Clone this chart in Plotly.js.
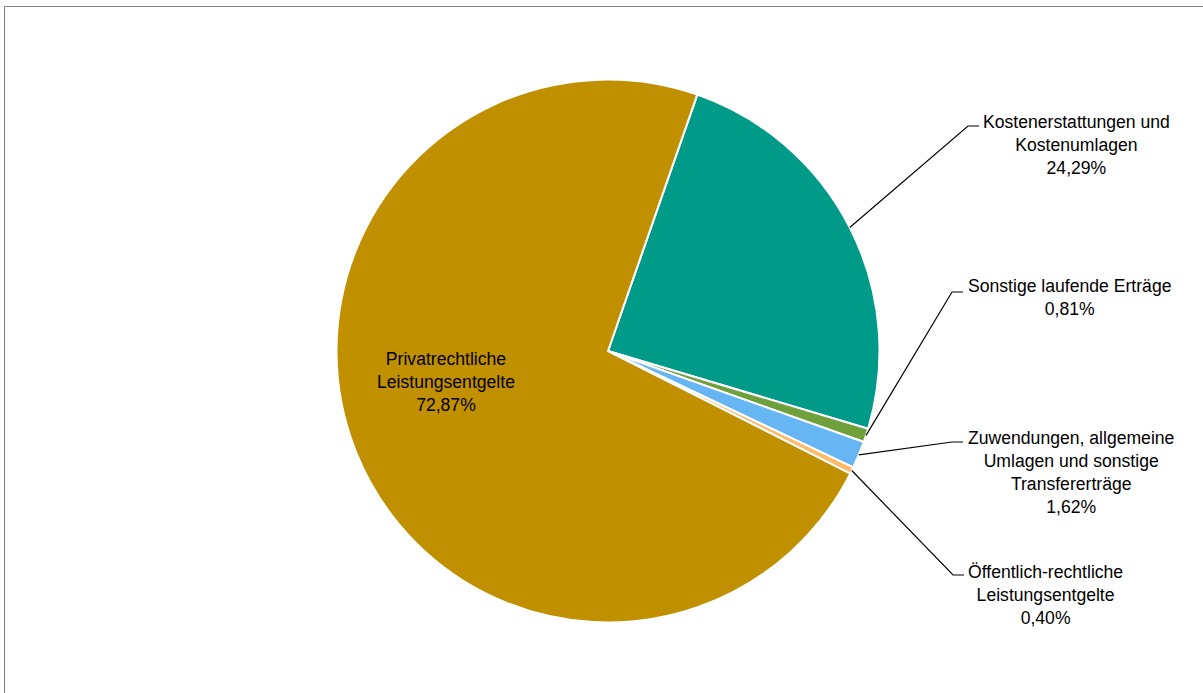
<!DOCTYPE html>
<html><head><meta charset="utf-8">
<script src="https://cdn.plot.ly/plotly-3.0.1.min.js"></script>
<style>html,body{margin:0;padding:0;background:#fff}#chart{width:1203px;height:693px}</style>
</head><body><div id="chart"></div>
<script>
// ---- data ----
const categories = [
  "Kostenerstattungen und<br>Kostenumlagen",
  "Sonstige laufende Erträge",
  "Zuwendungen, allgemeine<br>Umlagen und sonstige<br>Transfererträge",
  "Öffentlich-rechtliche<br>Leistungsentgelte",
  "Privatrechtliche<br>Leistungsentgelte"
];
const shares = [24.29, 0.81, 1.62, 0.40, 72.87];
const sliceColors = ["#009A88", "#6FA03C", "#66B6F4", "#FFB866", "#C09000"];

// ---- layout (pixels) ----
const W = 1203, H = 693;
const CX = 608, CY = 351, R = 271.5, ROT = 19.2;
// label placement: elbow point, text left edge, text centre y; null elbow = inside
const placement = [
  {elbow: [968, 126], tx: 981, ty: 145},
  {elbow: [952, 292], tx: 966, ty: 297},
  {elbow: [952, 442], tx: 966, ty: 472},
  {elbow: [953, 575], tx: 966, ty: 595},
  {elbow: null, tx: 446, ty: 382}
];
const FONT = {family: "'Liberation Sans Narrow', 'Arial Narrow', 'Liberation Sans', Arial, sans-serif", size: 17.6, color: "#000"};

const px = x => x / W;
const py = y => 1 - y / H;

const total = shares.reduce((a, b) => a + b, 0);
const fmt = v => v.toFixed(2).replace('.', ',') + '%';

const shapes = [
  {type: 'line', xref: 'paper', yref: 'paper', x0: px(4.5), x1: 1, y0: py(6.5), y1: py(6.5), line: {color: '#808080', width: 1}},
  {type: 'line', xref: 'paper', yref: 'paper', x0: px(4.5), x1: px(4.5), y0: py(6.5), y1: 0, line: {color: '#808080', width: 1}}
];
const annotations = [];
let cum = 0;
shares.forEach((v, i) => {
  const mid = (ROT + 360 * (cum + v / 2) / total) * Math.PI / 180;
  cum += v;
  const p = placement[i];
  const txt = categories[i] + '<br>' + fmt(v);
  if (p.elbow) {
    const ex = CX + R * Math.sin(mid), ey = CY - R * Math.cos(mid);
    const [bx, by] = p.elbow;
    shapes.push({type: 'path', xref: 'paper', yref: 'paper',
      path: `M ${px(ex)} ${py(ey)} L ${px(bx)} ${py(by)} L ${px(bx + 11)} ${py(by)}`,
      line: {color: '#000', width: 1.2}});
    annotations.push({xref: 'paper', yref: 'paper', x: px(p.tx), y: py(p.ty), xanchor: 'left', yanchor: 'middle',
      align: 'center', showarrow: false, text: txt, font: FONT});
  } else {
    annotations.push({xref: 'paper', yref: 'paper', x: px(p.tx), y: py(p.ty), xanchor: 'center', yanchor: 'middle',
      align: 'center', showarrow: false, text: txt, font: FONT});
  }
});

const trace = {
  type: 'pie',
  labels: categories,
  values: shares,
  sort: false,
  direction: 'clockwise',
  rotation: ROT,
  textinfo: 'none',
  hoverinfo: 'none',
  marker: {colors: sliceColors, line: {color: '#FFFFFF', width: 2}},
  domain: {x: [px(CX - R), px(CX + R)], y: [py(CY + R), py(CY - R)]}
};

Plotly.newPlot('chart', [trace], {
  width: W, height: H,
  margin: {l: 0, r: 0, t: 0, b: 0},
  showlegend: false,
  paper_bgcolor: '#fff',
  shapes, annotations
}, {staticPlot: true});
</script></body></html>
